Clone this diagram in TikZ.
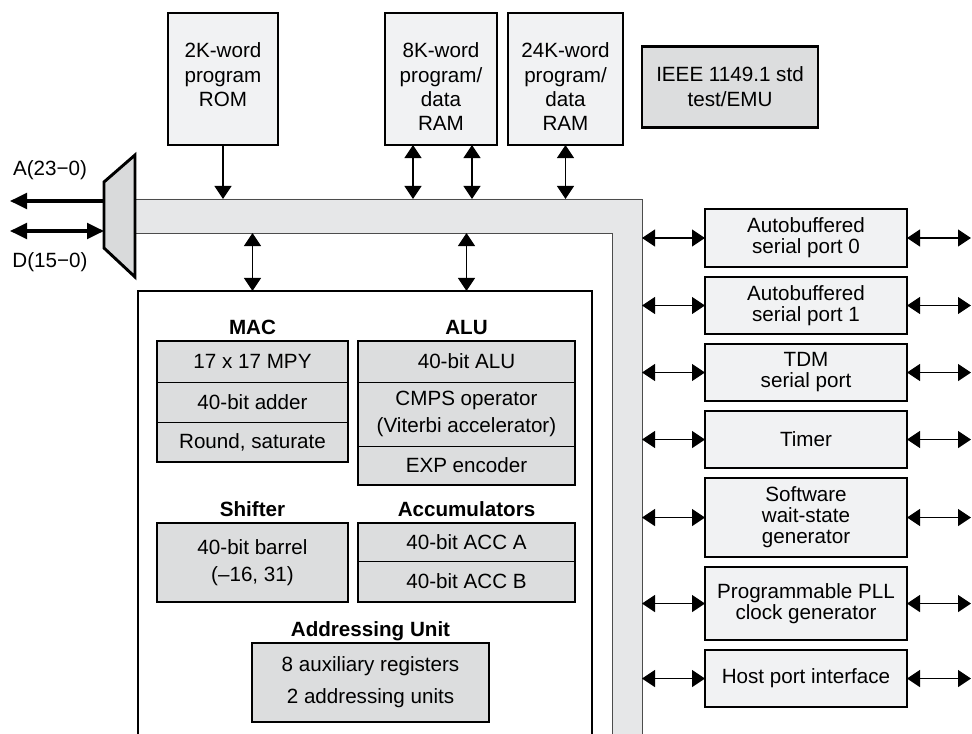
\documentclass[tikz,border=0pt]{standalone}
\usepackage{fontspec}
\setmainfont{Liberation Sans}
\usetikzlibrary{arrows.meta,positioning}

\definecolor{boxlight}{HTML}{F1F2F3}
\definecolor{boxdark}{HTML}{DCDDDE}
\definecolor{busfill}{HTML}{E6E7E8}
\definecolor{muxfill}{HTML}{D9DADB}

\tikzset{
  membox/.style={draw, line width=2.5pt, fill=boxlight, outer sep=0pt, inner sep=0pt},
  memtext/.style={align=center, inner sep=0pt, font=\fontsize{17.6pt}{20.8pt}\selectfont},
  portbox/.style={draw, line width=2.5pt, fill=boxlight, outer sep=0pt, align=center,
    minimum width=6.06cm, font=\fontsize{17.6pt}{17.9pt}\selectfont},
  unitrow/.style={draw, line width=0.8pt, fill=boxdark, outer sep=0pt, align=center,
    font=\fontsize{17.6pt}{22.5pt}\selectfont},
  unitbox/.style={unitrow, line width=2.5pt},
  unitlabel/.style={inner sep=0pt, text depth=0pt, font=\fontsize{17.6pt}{20pt}\selectfont\bfseries},
  biarrow/.style={<->, line width=1.1pt},
  sigarrow/.style={line width=2.6pt, >={Triangle[length=0.51cm,width=0.47cm]}},
  busline/.style={line width=0.7pt, draw=black!70}
}

\begin{document}
\begin{tikzpicture}[x=0.03cm, y=-0.03cm, >={Triangle[length=0.39cm,width=0.51cm]},
  font=\fontsize{17.6pt}{21pt}\selectfont]
  \path[use as bounding box, clip] (0,0) rectangle (972,734);

  % Bus
  \coordinate (bustop) at (135,199);
  \coordinate (busbot) at (135,233);
  \coordinate (busout) at (642,199);
  \coordinate (busin) at (612,233);
  \fill[busfill] (bustop) -- (busout) -- (642,760) -- (612,760) -- (busin) -- (busbot) -- cycle;
  \draw[busline] (bustop) -- (busout) -- (642,760);
  \draw[busline] (busbot) -- (busin) -- (612,760);

  % Memories on top
  \node[membox, minimum width=3.3cm, minimum height=3.96cm] (rom) at (223,79) {};
  \node[membox, minimum width=3.36cm, minimum height=3.96cm] (ram8) at (441,79) {};
  \node[membox, minimum width=3.45cm, minimum height=3.96cm, right=0.33cm of ram8] (ram24) {};
  \node[memtext, below=0.885cm of rom.north] (romtxt) {2K-word\\program\\ROM};
  \node[memtext, below=0.885cm of ram8.north] (ram8txt) {8K-word\\program/\\data\\RAM};
  \node[memtext, below=0.885cm of ram24.north] (ram24txt) {24K-word\\program/\\data\\RAM};
  \node[membox, fill=boxdark, minimum width=5.28cm, minimum height=2.43cm, align=center,
    font=\fontsize{17.6pt}{21.3pt}\selectfont] (jtag) at (730,87) {IEEE 1149.1 std\\test/EMU};

  \draw[->, line width=1.1pt] (rom.south) -- (rom.south |- bustop);
  \foreach \dx in {-0.84cm,0.93cm}
    \draw[biarrow] ([xshift=\dx]ram8.south) -- ([xshift=\dx]ram8.south |- bustop);
  \draw[biarrow] (ram24.south) -- (ram24.south |- bustop);

  % External address/data
  \coordinate (muxA) at (104,201);
  \coordinate (muxD) at (104,231);
  \coordinate (addrend) at (10,201);
  \coordinate (dataend) at (10,231);
  \draw[sigarrow, ->] (muxA) -- (addrend);
  \draw[sigarrow, <->] (dataend) -- (muxD);
  \filldraw[fill=muxfill, line width=2.5pt] (104,182) -- (135,155) -- (135,277) -- (104,248) -- cycle;
  \node (addrlbl) at (50,170) {A(23−0)};
  \node (datalbl) at (50,262) {D(15−0)};

  % CPU core
  \node[draw, line width=2.3pt, outer sep=0pt, minimum width=13.62cm, minimum height=15.27cm] (core) at (365,545.5) {};

  % MAC
  \node[unitrow, minimum width=5.73cm, minimum height=1.23cm] (mpy) at (252.5,361.5) {17 x 17 MPY};
  \node[unitrow, minimum width=5.73cm, minimum height=1.2cm, below=0 of mpy] (add) {40-bit adder};
  \node[unitrow, minimum width=5.73cm, minimum height=1.2cm, below=0 of add] (rnd) {Round, saturate};
  \draw[line width=2.5pt] (mpy.north west) rectangle (rnd.south east);
  \node[unitlabel, above=0.18cm of mpy] (maclbl) {MAC};

  % ALU
  \node[unitrow, minimum width=6.51cm, minimum height=1.23cm] (alu) at (466.5,361.5) {40-bit ALU};
  \node[unitrow, minimum width=6.51cm, minimum height=1.92cm, below=0 of alu] (cmps) {CMPS operator\\(Viterbi accelerator)};
  \node[unitrow, minimum width=6.51cm, minimum height=1.17cm, below=0 of cmps] (exp) {EXP encoder};
  \draw[line width=2.5pt] (alu.north west) rectangle (exp.south east);
  \node[unitlabel, above=0.18cm of alu] (alulbl) {ALU};

  % Shifter and accumulators
  \node[unitbox, minimum width=5.73cm, minimum height=2.37cm] (shf) at (252.5,562.5) {40-bit barrel\\(–16, 31)};
  \node[unitlabel, above=0.18cm of shf] (shflbl) {Shifter};
  \node[unitrow, minimum width=6.51cm, minimum height=1.14cm] (acca) at (466.5,542) {40-bit ACC A};
  \node[unitrow, minimum width=6.51cm, minimum height=1.23cm, below=0 of acca] (accb) {40-bit ACC B};
  \draw[line width=2.5pt] (acca.north west) rectangle (accb.south east);
  \node[unitlabel, above=0.18cm of acca] (acclbl) {Accumulators};

  % Addressing unit
  \node[unitbox, minimum width=7.11cm, minimum height=2.37cm, font=\fontsize{17.6pt}{27.2pt}\selectfont]
    (aru) at (370.5,682.5) {8 auxiliary registers\\2 addressing units};
  \node[unitlabel, above=0.18cm of aru] (arulbl) {Addressing Unit};

  \draw[biarrow] (mpy.north |- busbot) -- (mpy.north |- core.north);
  \draw[biarrow] (alu.north |- busbot) -- (alu.north |- core.north);

  % Peripherals
  \node[portbox, minimum height=1.74cm] (sp0) at (806,238) {Autobuffered\\serial port 0};
  \node[portbox, minimum height=1.71cm, below=0.3cm of sp0] (sp1) {Autobuffered\\serial port 1};
  \node[portbox, minimum height=1.71cm, below=0.3cm of sp1] (tdm) {TDM\\serial port};
  \node[portbox, minimum height=1.71cm, below=0.3cm of tdm] (tmr) {Timer};
  \node[portbox, minimum height=2.37cm, below=0.3cm of tmr] (wsg) {Software\\wait-state\\generator};
  \node[portbox, minimum height=2.19cm, below=0.3cm of wsg] (pll) {Programmable PLL\\clock generator};
  \node[portbox, minimum height=1.71cm, below=0.3cm of pll] (hpi) {Host port interface};

  \coordinate (busright) at (642,0);
  \coordinate (portend) at (971,0);
  \foreach \p in {sp0,sp1,tdm,tmr,wsg,pll,hpi} {
    \draw[biarrow] (busright |- \p.west) -- (\p.west);
    \draw[biarrow] (\p.east) -- (portend |- \p.east);
  }
\end{tikzpicture}
\end{document}
